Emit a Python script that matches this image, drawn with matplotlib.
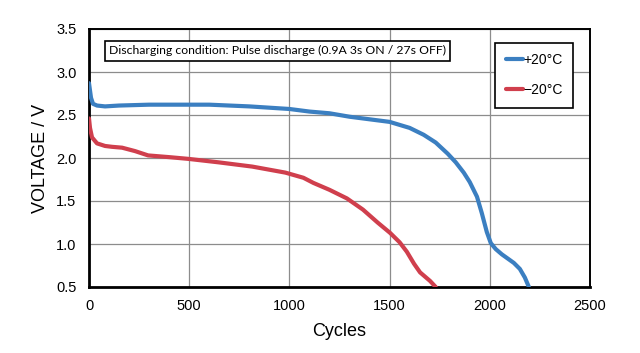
import matplotlib
matplotlib.use("Agg")
import matplotlib.pyplot as plt

# ── Data ────────────────────────────────────────────────
cycles_pos20 = [0, 10, 20, 40, 80, 150, 300, 500, 600, 800, 1000, 1100, 1200,
                1300, 1400, 1500, 1600, 1670, 1730, 1790, 1830, 1870, 1900,
                1936, 1960, 1985, 2005, 2030, 2060, 2090, 2120, 2150, 2175, 2195]
volt_pos20 = [2.87, 2.70, 2.63, 2.61, 2.60, 2.61, 2.62, 2.62, 2.62, 2.60, 2.57,
              2.54, 2.52, 2.48, 2.45, 2.42, 2.35, 2.27, 2.18, 2.05, 1.95, 1.83,
              1.72, 1.55, 1.36, 1.14, 1.01, 0.94, 0.88, 0.83, 0.78, 0.71, 0.61, 0.50]

cycles_neg20 = [0, 5, 15, 40, 80, 115, 165, 230, 295, 400, 495, 645, 815, 980,
                1070, 1120, 1200, 1287, 1367, 1440, 1502, 1550, 1586, 1622,
                1652, 1702, 1730]
volt_neg20 = [2.46, 2.35, 2.24, 2.17, 2.14, 2.13, 2.12, 2.08, 2.03, 2.01, 1.99,
              1.95, 1.90, 1.83, 1.77, 1.71, 1.63, 1.53, 1.40, 1.25, 1.13, 1.02,
              0.91, 0.77, 0.67, 0.57, 0.50]

x_ticks = [0, 500, 1000, 1500, 2000, 2500]
y_ticks = [0.5, 1.0, 1.5, 2.0, 2.5, 3.0, 3.5]

BLUE = "#3b7fc1"
RED = "#d03f4d"

plt.rcParams["font.family"] = ["Liberation Sans", "DejaVu Sans"]

fig = plt.figure(figsize=(6.4, 3.53), dpi=100)
ax = fig.add_axes([89 / 640, 1 - 287 / 353, (590 - 89) / 640, (287 - 29) / 353])

ax.plot(cycles_pos20, volt_pos20, color=BLUE, lw=3, solid_capstyle="round",
        solid_joinstyle="round", label="+20\u00b0C", zorder=3)
ax.plot(cycles_neg20, volt_neg20, color=RED, lw=3, solid_capstyle="round",
        solid_joinstyle="round", label="\u221220\u00b0C", zorder=3)

ax.set_xlim(0, 2500)
ax.set_ylim(0.5, 3.5)
ax.set_xticks(x_ticks)
ax.set_yticks(y_ticks)
ax.set_yticklabels([f"{v:.1f}" for v in y_ticks])
ax.tick_params(length=0, labelsize=10.5, pad=9)
ax.grid(True, color="#8c8c8c", lw=0.9)
ax.set_axisbelow(True)
for s in ax.spines.values():
    s.set_color("black")
    s.set_linewidth(1.4)
ax.spines["left"].set_linewidth(2)
ax.spines["bottom"].set_linewidth(2)

ax.set_xlabel("Cycles", fontsize=13, labelpad=7)
ax.set_ylabel("VOLTAGE / V", fontsize=13, labelpad=5)

ax.text(0.04, 0.915, "Discharging condition: Pulse discharge (0.9A 3s ON / 27s OFF)",
        transform=ax.transAxes, fontsize=8.8, family=["Lato", "DejaVu Sans"],
        va="center", ha="left",
        bbox=dict(boxstyle="square,pad=0.35", facecolor="white", edgecolor="black", lw=1.2))

leg = ax.legend(loc="upper right", bbox_to_anchor=(0.967, 0.946), fontsize=10,
                frameon=True, fancybox=False, edgecolor="black", framealpha=1,
                handlelength=1.25, handletextpad=0.05, labelspacing=1.15,
                borderpad=0.75, borderaxespad=0)
leg.get_frame().set_linewidth(1.2)

fig.savefig("out.png", dpi=100)
